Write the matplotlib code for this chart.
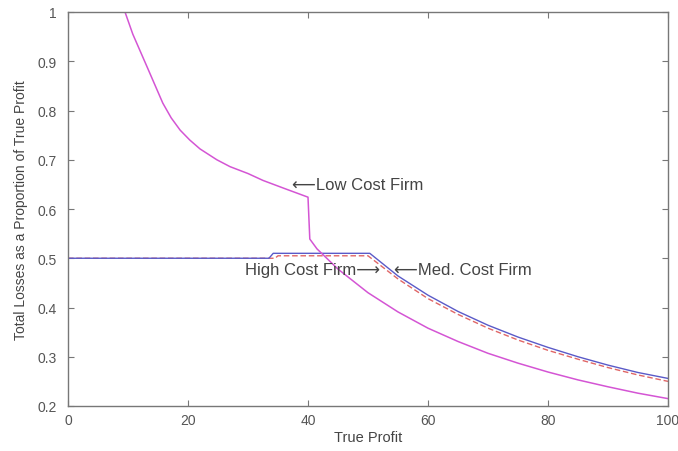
import matplotlib
matplotlib.use("Agg")
import matplotlib.pyplot as plt

plt.rcParams['font.family'] = ['Liberation Sans', 'DejaVu Sans']

# Low cost firm
low_x = [0, 9.5, 10.8, 13.2, 15.8, 17.2, 18.7, 20.3, 22, 24.8, 27, 30, 32.5, 36, 40,
         40.3, 41.5, 45, 50, 55, 60, 65, 70, 75, 80, 85, 90, 95, 100]
low_y = [1, 1, 0.955, 0.888, 0.815, 0.785, 0.76, 0.74, 0.722, 0.70, 0.686, 0.672,
         0.658, 0.642, 0.624, 0.539, 0.519, 0.478, 0.43, 0.391, 0.358, 0.331,
         0.307, 0.287, 0.269, 0.253, 0.239, 0.226, 0.215]

# Medium cost firm
med_x = [0, 33.5, 34.2, 50.3, 55, 60, 65, 70, 75, 80, 85, 90, 95, 100]
med_y = [0.5, 0.5, 0.51, 0.51, 0.464, 0.425, 0.392, 0.364, 0.34, 0.319, 0.30,
         0.283, 0.268, 0.256]

# High cost firm
high_x = [0, 34.5, 35.0, 50, 55, 60, 65, 70, 75, 80, 85, 90, 95, 100]
high_y = [0.5, 0.5, 0.505, 0.505, 0.458, 0.418, 0.386, 0.358, 0.334, 0.313,
          0.295, 0.278, 0.263, 0.25]

xticks = [0, 20, 40, 60, 80, 100]
yticks = [0.2, 0.3, 0.4, 0.5, 0.6, 0.7, 0.8, 0.9, 1]
ytick_labels = ['0.2', '0.3', '0.4', '0.5', '0.6', '0.7', '0.8', '0.9', '1']

fig = plt.figure(figsize=(6.78, 4.52), dpi=100)
ax = fig.add_axes([68/678, 1-407/452, 600/678, 394/452])

ax.plot(high_x, high_y, color='#e06666', lw=1.0, ls=(0, (4, 2)))
ax.plot(med_x, med_y, color='#5a5ac8', lw=1.0)
ax.plot(low_x, low_y, color='#d455d4', lw=1.1)

ax.set_xlim(0, 100)
ax.set_ylim(0.2, 1)
ax.set_xticks(xticks)
ax.set_yticks(yticks)
ax.set_yticklabels(ytick_labels)

txtc = '#444444'
ax.text(37.3, 0.65, '\u27f5Low Cost Firm', fontsize=12, color=txtc, va='center', ha='left')
ax.text(52.0, 0.478, 'High Cost Firm\u27f6', fontsize=12, color=txtc, va='center', ha='right')
ax.text(54.3, 0.478, '\u27f5Med. Cost Firm', fontsize=12, color=txtc, va='center', ha='left')

ax.set_xlabel('True Profit', fontsize=10.5, color=txtc, labelpad=2)
ax.set_ylabel('Total Losses as a Proportion of True Profit', fontsize=10, color=txtc, labelpad=7)

for s in ax.spines.values():
    s.set_color('#777777')
    s.set_linewidth(1.0)
ax.tick_params(direction='in', top=True, right=True, length=4, color='#777777',
               labelcolor='#555555', labelsize=10, pad=5)
ax.tick_params(axis='y', pad=8)

fig.savefig('out.png', dpi=100)
